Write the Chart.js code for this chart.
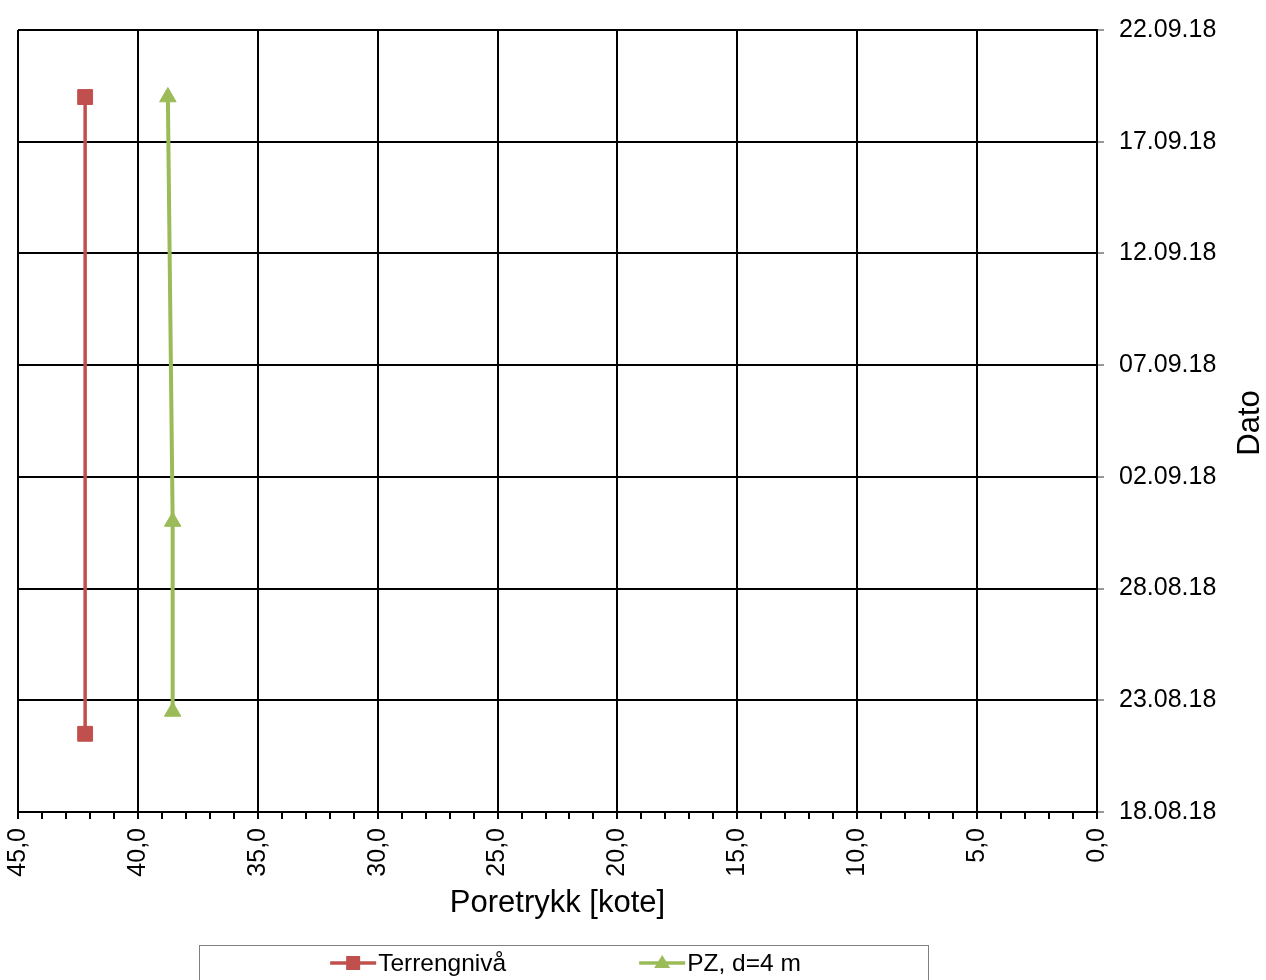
<!DOCTYPE html>
<html>
<head>
<meta charset="utf-8">
<script src="https://cdn.jsdelivr.net/npm/chart.js@4.4.1/dist/chart.umd.min.js"></script>
<style>
  body { margin: 0; background: #fff; }
</style>
</head>
<body>
<canvas id="chart" width="1266" height="980"></canvas>
<script>
// start of the date axis, everything on y is days from here
const startDate = "2018-08-18T00:00";
const yDaysMax = 35;
const yStepDays = 5;
const xMin = 0;
const xMax = 45;

const seriesLabels = ["Terrengnivå", "PZ, d=4 m"];

const terrengDates = ["2018-08-21T12:00", "2018-09-19T00:00"];
const terrengValues = [42.2, 42.2];

const pzDates = ["2018-08-22T12:00", "2018-08-31T00:00", "2018-09-19T00:00"];
const pzValues = [38.55, 38.55, 38.75];

const xTitle = "Poretrykk [kote]";
const yTitle = "Dato";

const FONT = "'Liberation Sans', Arial, sans-serif";
Chart.defaults.font.family = FONT;
Chart.defaults.color = "#000";

const baseMs = Date.parse(startDate + "Z");
const dayOffset = s => (Date.parse(s + "Z") - baseMs) / 86400000;

const pad2 = n => String(n).padStart(2, "0");
function dateLabel(days) {
	const d = new Date(baseMs + days * 86400000);
	return pad2(d.getUTCDate()) + "." + pad2(d.getUTCMonth() + 1) + "." + pad2(d.getUTCFullYear() % 100);
}

const toPoints = (values, dates) => values.map((v, i) => ({x: v, y: dayOffset(dates[i])}));

// y title reads bottom-to-top, chart.js only does top-to-bottom on a right axis
const datoTitle = {
	id: "datoTitle",
	afterDraw(chart) {
		const ctx = chart.ctx;
		ctx.save();
		ctx.translate(1250, (chart.chartArea.top + chart.chartArea.bottom) / 2 + 2);
		ctx.rotate(-Math.PI / 2);
		ctx.font = "31px " + FONT;
		ctx.fillStyle = "#000";
		ctx.textAlign = "center";
		ctx.textBaseline = "middle";
		ctx.fillText(yTitle, 0, 0);
		ctx.restore();
	}
};

// Excel style legend: box under the chart, line + marker per series
const legendBox = {
	id: "legendBox",
	afterDraw(chart) {
		const ctx = chart.ctx;
		const mid = (chart.chartArea.left + chart.chartArea.right) / 2 + 6;
		const top = 945, w = 729, y = 963;
		ctx.save();
		ctx.strokeStyle = "#808080";
		ctx.lineWidth = 1;
		ctx.strokeRect(Math.round(mid - w / 2) + 0.5, top + 0.5, w, 60);

		ctx.font = "24.5px " + FONT;
		const lineLen = 46, textGap = 2, gap = 133;
		const dsets = chart.data.datasets;
		const widths = dsets.map(ds => lineLen + textGap + ctx.measureText(ds.label).width);
		let x = mid + 2 - (widths.reduce((a, b) => a + b, 0) + gap) / 2;

		dsets.forEach((ds, i) => {
			ctx.strokeStyle = ds.borderColor;
			ctx.fillStyle = ds.borderColor;
			ctx.lineWidth = 3.5;
			ctx.beginPath();
			ctx.moveTo(x, y);
			ctx.lineTo(x + lineLen, y);
			ctx.stroke();
			const cx = x + lineLen / 2;
			ctx.beginPath();
			if (ds.pointStyle === "rect") {
				ctx.rect(cx - 7, y - 7, 14, 14);
			} else {
				ctx.moveTo(cx, y - 8);
				ctx.lineTo(cx + 8, y + 5);
				ctx.lineTo(cx - 8, y + 5);
				ctx.closePath();
			}
			ctx.fill();
			ctx.fillStyle = "#000";
			ctx.textAlign = "left";
			ctx.textBaseline = "middle";
			ctx.fillText(ds.label, x + lineLen + textGap, y + 1);
			x += widths[i] + gap;
		});
		ctx.restore();
	}
};

new Chart(document.getElementById("chart"), {
	type: "scatter",
	data: {
		datasets: [{
			label: seriesLabels[0],
			data: toPoints(terrengValues, terrengDates),
			showLine: true,
			borderColor: "#C0504D",
			backgroundColor: "#C0504D",
			borderWidth: 3.5,
			pointStyle: "rect",
			pointRadius: 10.5,
			pointBorderWidth: 1,
			tension: 0
		}, {
			label: seriesLabels[1],
			data: toPoints(pzValues, pzDates),
			showLine: true,
			borderColor: "#9BBB59",
			backgroundColor: "#9BBB59",
			borderWidth: 4,
			pointStyle: "triangle",
			pointRadius: 9.5,
			pointBorderWidth: 1,
			tension: 0
		}]
	},
	options: {
		responsive: false,
		animation: false,
		layout: {
			padding: {top: 29, left: 18, right: 0, bottom: 58}
		},
		plugins: {
			legend: {display: false},
			tooltip: {enabled: false}
		},
		scales: {
			x: {
				type: "linear",
				reverse: true,
				min: xMin,
				max: xMax,
				afterFit(scale) { scale.height = 110; },
				ticks: {
					stepSize: 1,
					autoSkip: false,
					minRotation: 90,
					maxRotation: 90,
					padding: 9,
					font: {size: 25},
					color: "#000",
					callback: v => v % 5 === 0 ? v.toFixed(1).replace(".", ",") : ""
				},
				grid: {
					color: ctx => (ctx.tick && ctx.tick.value % 5 === 0) ? "#000" : "rgba(0,0,0,0)",
					tickColor: "#000",
					lineWidth: 2,
					tickLength: 7
				},
				border: {color: "#000", width: 2},
				title: {
					display: true,
					text: xTitle,
					font: {size: 31},
					color: "#000",
					padding: {top: 0, bottom: 0}
				}
			},
			y: {
				type: "linear",
				position: "right",
				min: 0,
				max: yDaysMax,
				afterFit(scale) { scale.width = 169; },
				ticks: {
					stepSize: yStepDays,
					padding: 15,
					font: {size: 25},
					color: "#000",
					callback: v => dateLabel(v)
				},
				grid: {
					color: "#000",
					tickColor: "#999",
					lineWidth: 2,
					tickLength: 7
				},
				border: {color: "#000", width: 2}
			}
		}
	},
	plugins: [datoTitle, legendBox]
});
</script>
</body>
</html>
